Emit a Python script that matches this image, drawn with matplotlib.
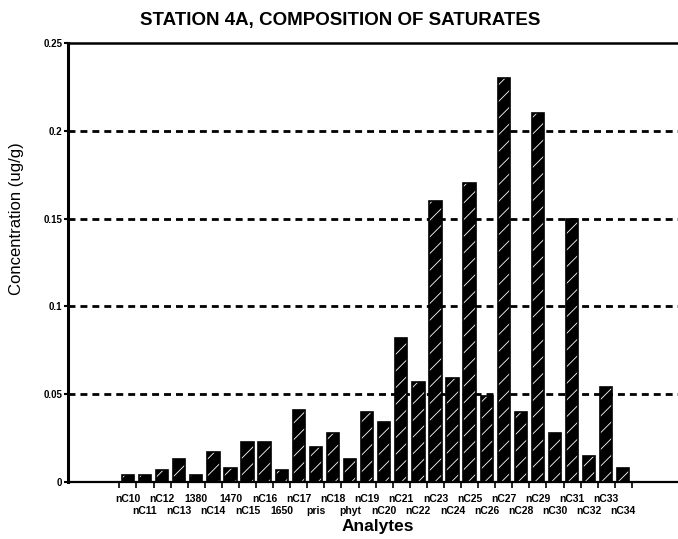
import matplotlib
matplotlib.use("Agg")
import matplotlib.pyplot as plt
import numpy as np

analytes = ["nC10", "nC11", "nC12", "nC13", "1380", "nC14", "1470", "nC15", "nC16", "1650",
            "nC17", "pris", "nC18", "phyt", "nC19", "nC20", "nC21", "nC22", "nC23", "nC24",
            "nC25", "nC26", "nC27", "nC28", "nC29", "nC30", "nC31", "nC32", "nC33", "nC34"]
concentration = [0.004, 0.004, 0.007, 0.013, 0.004, 0.017, 0.008, 0.023, 0.023, 0.007,
                 0.041, 0.020, 0.028, 0.013, 0.040, 0.034, 0.082, 0.057, 0.160, 0.059,
                 0.170, 0.049, 0.230, 0.040, 0.210, 0.028, 0.150, 0.015, 0.054, 0.008]
yticks = [0, 0.05, 0.1, 0.15, 0.2, 0.25]
ytick_labels = ["0", "0.05", "0.1", "0.15", "0.2", "0.25"]

plt.rcParams['font.family'] = ['Liberation Sans', 'DejaVu Sans']
plt.rcParams['hatch.linewidth'] = 0.6

fig = plt.figure(figsize=(6.78, 5.39), dpi=100)
ax = fig.add_axes([68/678, 57/539, 610/678, 439/539])

x = np.arange(len(analytes))
# gridlines
for yv in yticks[1:-1]:
    ax.axhline(yv, color='black', lw=2.0, linestyle=(0, (2.5, 1.8)), zorder=1)

ax.bar(x, concentration, width=0.72, color='black', edgecolor='white', hatch='//',
       linewidth=0, zorder=2)
ax.bar(x, concentration, width=0.72, fill=False, edgecolor='black', linewidth=1.2, zorder=3)

ax.set_xlim(-3.51, 32.2)
ax.set_ylim(0, 0.25)

ax.spines['right'].set_visible(False)
ax.spines['top'].set_linewidth(1.8)
ax.spines['left'].set_linewidth(2.2)
ax.spines['bottom'].set_linewidth(1.6)

ax.set_yticks(yticks)
ax.set_yticklabels(ytick_labels, fontsize=7, fontweight='bold')
ax.tick_params(axis='y', length=3, width=1.5, pad=1)

# staggered category labels: even indices on top row, odd on bottom row
ax.set_xticks(x[0::2])
ax.set_xticklabels(analytes[0::2], fontsize=7.5, fontweight='bold')
ax.set_xticks(x[1::2], minor=True)
ax.set_xticklabels(analytes[1::2], minor=True, fontsize=7.5, fontweight='bold')
ax.tick_params(axis='x', which='major', length=0, pad=9)
ax.tick_params(axis='x', which='minor', length=0, pad=17.5)

# tick marks between categories
sec = ax.secondary_xaxis('bottom')
sec.set_xticks(np.arange(-0.5, len(analytes) + 0.5, 1.0))
sec.set_xticklabels([])
sec.tick_params(axis='x', length=4, width=1.2, direction='out')
sec.spines['bottom'].set_visible(False)

ax.set_ylabel("Concentration (ug/g)", fontsize=12)
ax.yaxis.set_label_coords(-0.072, 0.6)

fig.text(378/678, 1 - 527/539, "Analytes", ha='center', va='center', fontsize=12.5, fontweight='bold')
fig.text(340/678, 1 - 20/539, "STATION 4A, COMPOSITION OF SATURATES", ha='center', va='center',
         fontsize=13.5, fontweight='bold')

fig.savefig("out.png", dpi=100)
